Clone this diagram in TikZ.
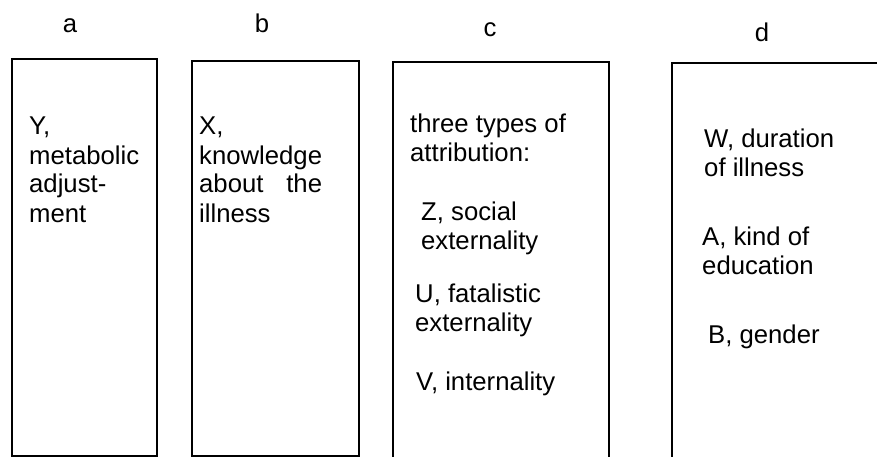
\documentclass[tikz,border=0pt]{standalone}
\usepackage{fontspec}
\setmainfont{Liberation Sans}
\newlength{\knowwd}
\newcommand{\figfont}{\fontsize{25.7}{29}\selectfont}
\begin{document}
\settowidth{\knowwd}{\figfont knowledge}
\begin{tikzpicture}[x=1pt,y=-1pt,
  box/.style={line width=1.7pt, line join=miter},
  txt/.style={anchor=base west, align=left, inner sep=0pt, font=\figfont},
  lbl/.style={anchor=base, inner sep=0pt, font=\figfont}]
\useasboundingbox (0,0) rectangle (877,457);
% boxes
\draw[box] (12,456) -- (12,59) -- (157,59) -- (157,456) -- cycle;
\draw[box] (192,456) -- (192,61) -- (359,61) -- (359,456) -- cycle;
\draw[box] (393,470) -- (393,62) -- (609,62) -- (609,470);
\draw[box] (672,470) -- (672,63) -- (890,63);
% column labels
\node[lbl] (la) at (70,33) {a};
\node[lbl] (lb) at (262,33) {b};
\node[lbl] (lc) at (490,37) {c};
\node[lbl] (ld) at (762,42) {d};
% texts (anchored at the baseline of their last line)
\node[txt] (ta) at (29,222) {Y,\\metabolic\\adjust-\\ment};
\node[txt] (tb) at (199,222) {X,\\knowledge\\\makebox[\knowwd][s]{about the}\\illness};
\node[txt] (tc1) at (410,162) {three types of\\attribution:};
\node[txt] (tc2) at (421,249) {Z, social\\externality};
\node[txt] (tc3) at (415,331) {U, fatalistic\\externality};
\node[txt] (tc4) at (416,390) {V, internality};
\node[txt] (td1) at (704,177) {W, duration\\of illness};
\node[txt] (td2) at (702,274) {A, kind of\\education};
\node[txt] (td3) at (708,343) {B, gender};
\end{tikzpicture}
\end{document}
